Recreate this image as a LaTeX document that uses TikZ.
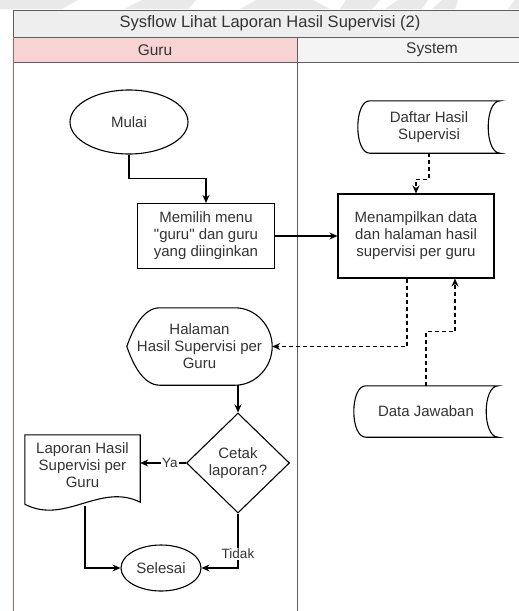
\documentclass[tikz,border=0pt]{standalone}
\usepackage{fontspec}
\setmainfont{Liberation Sans}
\usetikzlibrary{shapes.geometric,arrows.meta,calc}

\definecolor{ink}{HTML}{333333}
\definecolor{lanegrey}{HTML}{5E5E5E}
\definecolor{lanered}{HTML}{B5605C}
\definecolor{titlefill}{HTML}{EEEEEE}
\definecolor{gurufill}{HTML}{F8D3D3}
\definecolor{sysfill}{HTML}{F4F4F4}
\definecolor{markgrey}{HTML}{E9E9E9}

\begin{document}
\begin{tikzpicture}[x=1pt,y=-1pt,
  every node/.style={text=ink, align=center, inner sep=0pt,
    font=\fontsize{15}{17}\selectfont},
  procbox/.style={draw=black, rectangle, line width=1.1pt},
  termbox/.style={draw=black, ellipse, line width=1.1pt},
  decbox/.style={draw=black, diamond, line width=1.1pt},
  plainbox/.style={rectangle},
  outline/.style={draw=black, line width=1.1pt},
  lanebar/.style={draw=lanegrey, line width=1pt},
  headtext/.style={font=\fontsize{15.5}{18}\selectfont},
  flow/.style={line width=1.1pt, -{Stealth[length=8pt,width=7pt]}},
  dataflow/.style={flow, dash pattern=on 4pt off 3pt},
  lbl/.style={fill=white, inner sep=1pt, font=\fontsize{13.5}{16}\selectfont}
]
\useasboundingbox (0,0) rectangle (519,611);

% faint background marks along the top edge
\fill[markgrey] (0,0) -- (78,0) -- (62,9) -- (0,9) -- cycle;
\fill[markgrey] (124,9) -- (142,0) -- (196,0) -- (188,9) -- cycle;
\fill[markgrey] (240,9) -- (256,0) -- (313,0) -- (330,9) -- cycle;
\fill[markgrey] (340,9) -- (346,0) -- (380,0) -- (372,9) -- cycle;
\fill[markgrey] (385,9) -- (398,0) -- (428,0) -- (422,9) -- cycle;
\fill[markgrey] (432,9) -- (442,0) -- (458,0) -- (455,9) -- cycle;
\fill[markgrey] (508,9) -- (515,0) -- (519,0) -- (519,9) -- cycle;

% pool and swimlanes
\fill[titlefill] (13,10) rectangle (530,37);
\fill[gurufill] (13,37) rectangle (297,62);
\fill[sysfill] (297,37) rectangle (530,62);
\draw[lanebar] (530,10) -- (13,10) -- (13,37);
\draw[lanebar] (13,37) -- (530,37);
\draw[lanebar] (13,62) -- (530,62);
\draw[lanebar] (297,37) -- (297,620);
\draw[draw=lanered, line width=1pt] (13,37) -- (13,620);

\node[headtext, font=\fontsize{16.5}{19}\selectfont] (title) at (270,23.5) {Sysflow Lihat Laporan Hasil Supervisi (2)};
\node[headtext] (guruhead) at (155,50) {Guru};
\node[headtext] (syshead) at (432,50) {System};

% Guru lane
\node[termbox, minimum width=118pt, minimum height=64pt] (M) at (129,122) {Mulai};
\node[procbox, minimum width=137pt, minimum height=65pt] (P) at (206,236) {Memilih menu\\\textquotedbl guru\textquotedbl{} dan guru\\yang diinginkan};
\node[plainbox, minimum width=145pt, minimum height=77pt] (H) at (199.5,346.5) {Halaman\\Hasil Supervisi per\\Guru};
\node[decbox, minimum width=103pt, minimum height=100pt] (C) at (238,463) {Cetak\\laporan?};
\node[plainbox, minimum width=115pt, minimum height=60pt] (L) at (82.5,465) {Laporan Hasil\\Supervisi per\\Guru};
\node[termbox, minimum width=80pt, minimum height=46pt] (S) at (161,568) {Selesai};

% System lane
\node[procbox, minimum width=156pt, minimum height=84pt] (N) at (416,236) {Menampilkan data\\dan halaman hasil\\supervisi per guru};
\node[plainbox, minimum width=142pt, minimum height=52pt] (D) at (429,127) {Daftar Hasil\\Supervisi};
\node[plainbox, minimum width=144pt, minimum height=51pt] (J) at (426,411.5) {Data Jawaban};

% display outline: pointed left end, rounded right end
\draw[outline] (H.west)
  .. controls ([xshift=6pt,yshift=17pt]H.west) and ([xshift=16pt]H.north west) .. ([xshift=33pt]H.north west)
  -- ([xshift=-37pt]H.north east)
  .. controls ([xshift=-17pt]H.north east) and ([yshift=21pt]H.east) .. (H.east)
  .. controls ([yshift=-21pt]H.east) and ([xshift=-17pt]H.south east) .. ([xshift=-37pt]H.south east)
  -- ([xshift=33pt]H.south west)
  .. controls ([xshift=16pt]H.south west) and ([xshift=6pt,yshift=-17pt]H.west) .. cycle;

% document outline with wavy foot
\draw[outline] (L.north west) -- (L.north east) -- ([yshift=-7pt]L.south east)
  .. controls ([xshift=-40pt,yshift=13pt]L.south east) and ([xshift=40pt,yshift=-30pt]L.south west)
  .. ([yshift=-9pt]L.south west) -- cycle;

% stored data outlines
\foreach \n in {D,J}{
  \draw[outline] ([xshift=12pt]\n.north west) -- (\n.north east)
    .. controls ([xshift=-16pt]\n.north east) and ([xshift=-16pt]\n.south east) .. (\n.south east)
    -- ([xshift=12pt]\n.south west)
    .. controls ([xshift=-4pt]\n.south west) and ([xshift=-4pt]\n.north west) .. cycle;
}

% connectors
\draw[flow] (M.south) -- ++(0,24) -| (P.north);
\draw[flow] (P.east) -- (N.west);
\draw[dataflow] (D.south) -- ++(0,26) -| (N.north);
\draw[dataflow] ([xshift=-9pt]N.south) |- (H.east);
\draw[dataflow] (J.north) -- ++(0,-54) -| ([xshift=39pt]N.south);
\draw[flow] (H.south -| C.north) -- (C.north);
\draw[flow] (C.west) -- node[lbl, pos=0.35] {Ya} (C.west -| L.east);
\draw[flow] (C.south) |- node[lbl, pos=0.37] {Tidak} (S.east);
\draw[flow] ([xshift=2.5pt,yshift=-11pt]L.south) |- (S.west);
\end{tikzpicture}
\end{document}
